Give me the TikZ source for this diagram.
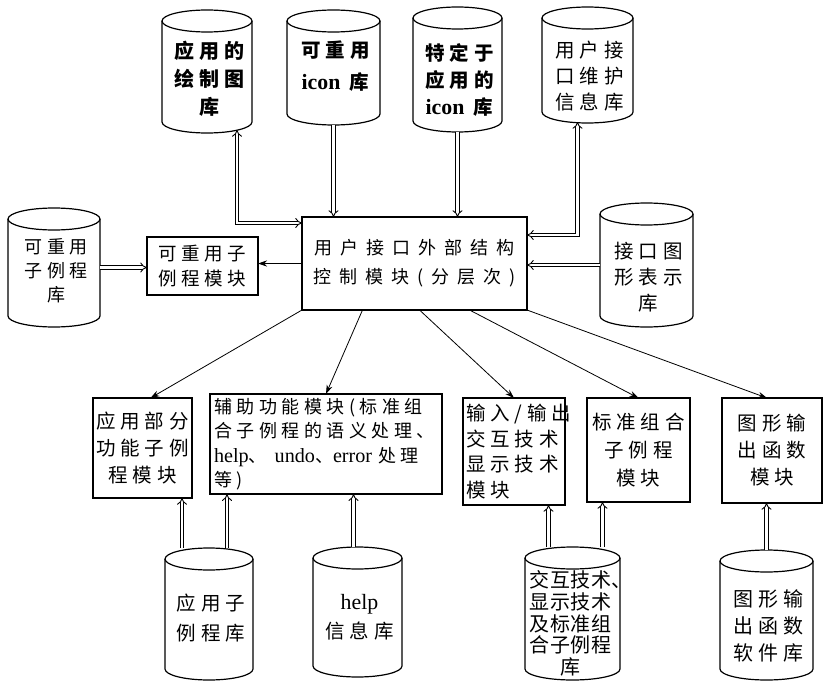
\documentclass[tikz,border=0pt]{standalone}
\usepackage{fontspec}
\newfontfamily\cjk[LetterSpace=25]{Noto Sans CJK SC}
\newfontfamily\cjkw[LetterSpace=45]{Noto Sans CJK SC}
\newfontfamily\cjktight[LetterSpace=4]{Noto Sans CJK SC}
\newfontfamily\latinf{Liberation Serif}
\newfontfamily\latinbig[Scale=1.12]{Liberation Serif}
\usetikzlibrary{arrows.meta,calc}

\newcommand\cylnode[7]{%
  \node[cylbody, minimum width=#4pt, minimum height=#5pt] (#1) at (#2,#3) {};
  \draw[cylline] ([yshift=-11pt]#1.north west) -- ([yshift=11pt]#1.south west)
     arc[start angle=180, end angle=360, x radius=#4pt/2, y radius=11pt]
     -- ([yshift=-11pt]#1.north east);
  \draw[cylline] ([yshift=-11pt]#1.north) ellipse[x radius=#4pt/2, y radius=11pt];
  \node[txt, #6] (#1-t) at (#1.center) {#7};
}

\tikzset{
  cylbody/.style={inner sep=0pt, outer sep=0pt, draw=none},
  cylline/.style={line width=1.2pt, black},
  txt/.style={inner sep=0pt, align=center},
  boxst/.style={draw, line width=1.2pt, inner sep=0pt, outer sep=0pt, align=center},
  dbl/.style={double, double distance=2.6pt, line width=0.9pt, -{Implies}},
  dbltwo/.style={double, double distance=2.6pt, line width=0.9pt, {Implies}-{Implies}},
  thinarr/.style={line width=0.8pt, -{Stealth[length=9pt,width=6pt]}},
}

\begin{document}
\begin{tikzpicture}[x=1pt,y=-1pt]
\fill[white] (0,0) rectangle (827,682);
\useasboundingbox (0,0) rectangle (827,682);

% top cylinders
\cylnode{c1}{207}{71.5}{90}{123}{xshift=2pt, yshift=-7pt, font=\cjk\bfseries\fontsize{20}{28}\selectfont}{应用的\\绘制图\\库}
\cylnode{c2}{333.5}{67.5}{93}{115}{xshift=2pt, yshift=1pt, font=\cjk\bfseries\fontsize{19.5}{32}\selectfont}{可重用\\{\latinbig\bfseries icon} 库}
\cylnode{c3}{457.5}{69.5}{89}{125}{xshift=2pt, yshift=-10pt, font=\cjk\bfseries\fontsize{19.5}{27}\selectfont}{特定于\\应用的\\{\latinbig icon} 库}
\cylnode{c4}{587.5}{65}{91}{116}{xshift=2pt, yshift=-11pt, font=\cjk\fontsize{19.5}{26}\selectfont}{用户接\\口维护\\信息库}

% middle row
\cylnode{lc}{54}{267.5}{92}{119}{xshift=2pt, yshift=-3pt, font=\cjk\fontsize{18}{24}\selectfont}{可重用\\子例程\\库}
\node[boxst, minimum width=111pt, minimum height=58pt, font=\cjk\fontsize{18.5}{25}\selectfont] (sub) at (202.5,266) {可重用子\\例程模块};
\node[boxst, minimum width=225pt, minimum height=93pt, font=\cjkw\fontsize{18}{29}\selectfont] (ctr) at (414.5,263.5) {用户接口外部结构\\控制模块(分层次)};
\cylnode{rc}{646.5}{265}{93}{124}{xshift=2pt, yshift=-12pt, font=\cjk\fontsize{19.5}{26}\selectfont}{接口图\\形表示\\库}

% bottom boxes
\node[boxst, minimum width=99pt, minimum height=100pt, font=\cjk\fontsize{19.5}{27}\selectfont] (b1) at (142.5,448) {应用部分\\功能子例\\程模块};
\node[boxst, align=left, inner sep=4pt, text width=224pt, minimum height=92pt, font=\cjk\fontsize{18}{24.5}\selectfont] (b2) at (326,444) {辅助功能模块(标准组\\合子例程的语义处理、\\{\latinbig help}、\hspace{8pt}{\latinbig undo}、{\latinbig error} 处理\\等)};
\node[boxst, align=left, inner sep=3pt, text width=96pt, minimum height=107pt, font=\cjk\fontsize{19.5}{25.5}\selectfont] (b3) at (514,451.5) {输入/输出\\交互技术\\显示技术\\模块};
\node[boxst, minimum width=103pt, minimum height=104pt, font=\cjk\fontsize{19.5}{28}\selectfont] (b4) at (638.5,450) {标准组合\\子例程\\模块};
\node[boxst, minimum width=100pt, minimum height=105pt, font=\cjk\fontsize{19.5}{27}\selectfont] (b5) at (772,450.5) {图形输\\出函数\\模块};

% bottom cylinders
\cylnode{bc1}{209}{614}{88}{132}{xshift=2pt, yshift=-4pt, font=\cjk\fontsize{19.5}{30}\selectfont}{应用子\\例程库}
\cylnode{bc2}{357.5}{612}{89}{130}{xshift=2pt, yshift=-5pt, font=\cjk\fontsize{19.5}{29}\selectfont}{{\latinbig help}\\信息库}
\cylnode{bc3}{572.5}{613.5}{95}{133}{xshift=-2pt, yshift=-10pt, font=\cjktight\fontsize{20}{21.75}\selectfont}{交互技术\rlap{、}\\显示技术\\及标准组\\合子例程\\库}
\cylnode{bc4}{766.5}{615}{93}{130}{xshift=2pt, yshift=-11pt, font=\cjk\fontsize{20}{27}\selectfont}{图形输\\出函数\\软件库}

% top connectors
\draw[dbltwo] ([xshift=30pt,yshift=3pt]c1.south) |- ([yshift=-6pt]ctr.north west);
\draw[dbl] (c2.south) -- (c2.south |- ctr.north);
\draw[dbl] (c3.south) -- (c3.south |- ctr.north);
\draw[dbltwo] ([yshift=-18pt]ctr.north east) -| ([xshift=-10pt,yshift=1pt]c4.south);

% middle connectors
\draw[dbl] (lc.east) -- (lc.east -| sub.west);
\draw[thinarr] (ctr.west) -- (ctr.west -| sub.east);
\draw[dbl] (rc.west) -- (rc.west -| ctr.east);

% to bottom boxes
\draw[thinarr] (ctr.south west) -- ([xshift=8pt]b1.north);
\draw[thinarr] ([xshift=-52pt]ctr.south) -- (b2.north);
\draw[thinarr] ([xshift=5pt]ctr.south) -- (b3.north);
\draw[thinarr] ([xshift=55pt]ctr.south) -- (b4.north);
\draw[thinarr] (ctr.south east) -- ([xshift=-5pt]b5.north);

% bottom connectors
\draw[dbl] ([xshift=-27pt]bc1.north) -- ([xshift=-27pt]bc1.north |- b1.south);
\draw[dbl] ([xshift=18pt]bc1.north) -- ([xshift=18pt]bc1.north |- b2.south);
\draw[dbl] ([xshift=-4pt]bc2.north) -- ([xshift=-4pt]bc2.north |- b2.south);
\draw[dbl] ([xshift=-24pt]bc3.north) -- ([xshift=-24pt]bc3.north |- b3.south);
\draw[dbl] ([xshift=30pt]bc3.north) -- ([xshift=30pt]bc3.north |- b4.south);
\draw[dbl] (bc4.north) -- (bc4.north |- b5.south);
\end{tikzpicture}
\end{document}
